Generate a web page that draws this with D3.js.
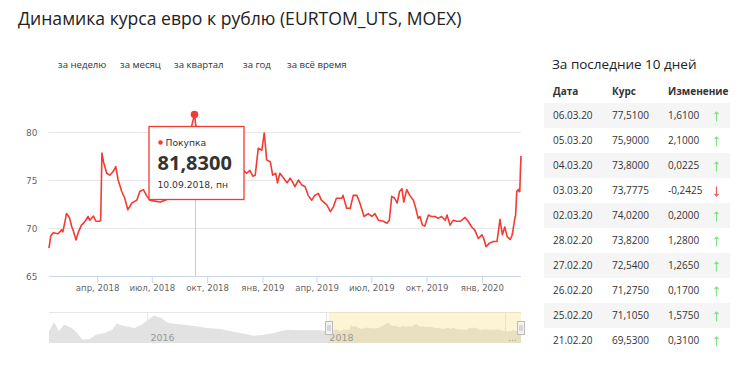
<!DOCTYPE html>
<html>
<head>
<meta charset="utf-8">
<script src="https://cdn.jsdelivr.net/npm/d3@7"></script>
<style>
  html, body { margin: 0; padding: 0; background: #fff; }
  svg { display: block; }
</style>
</head>
<body>
<svg id="chart" width="750" height="378"></svg>
<script>
// ---------- DATA ----------
const seriesDates = [
  "2018-01-11","2018-01-14","2018-01-18","2018-01-26","2018-02-01","2018-02-03","2018-02-07","2018-02-09",
  "2018-02-14","2018-02-18","2018-02-20","2018-02-25","2018-03-01","2018-03-06","2018-03-12","2018-03-17",
  "2018-03-20","2018-03-26","2018-03-30","2018-04-05","2018-04-07","2018-04-09","2018-04-12","2018-04-17",
  "2018-04-22","2018-04-28","2018-05-02","2018-05-06","2018-05-12","2018-05-17","2018-05-22","2018-05-29",
  "2018-06-06","2018-06-11","2018-06-17","2018-06-22","2018-06-28","2018-07-06","2018-07-15","2018-07-23",
  "2018-07-31","2018-08-05","2018-08-10","2018-08-15","2018-08-20","2018-08-24","2018-08-30","2018-09-04",
  "2018-09-10","2018-09-13","2018-09-18","2018-09-24","2018-10-01","2018-10-08","2018-10-15","2018-10-22",
  "2018-10-29","2018-11-05","2018-11-12","2018-11-19","2018-11-26","2018-11-30","2018-12-06","2018-12-11",
  "2018-12-16","2018-12-20","2018-12-25","2018-12-31","2019-01-04","2019-01-08","2019-01-14","2019-01-18",
  "2019-01-23","2019-01-26","2019-01-30","2019-02-05","2019-02-11","2019-02-16","2019-02-20","2019-02-24",
  "2019-03-02","2019-03-07","2019-03-13","2019-03-18","2019-03-24","2019-03-29","2019-04-04","2019-04-09",
  "2019-04-18","2019-04-24","2019-04-29","2019-05-04","2019-05-13","2019-05-15","2019-05-21","2019-05-27",
  "2019-06-01","2019-06-07","2019-06-12","2019-06-19","2019-06-26","2019-07-02","2019-07-07","2019-07-13",
  "2019-07-21","2019-07-27","2019-07-31","2019-08-04","2019-08-09","2019-08-13","2019-08-17","2019-08-21",
  "2019-08-24","2019-08-29","2019-09-03","2019-09-09","2019-09-13","2019-09-17","2019-09-20","2019-09-24",
  "2019-09-28","2019-10-04","2019-10-09","2019-10-15","2019-10-20","2019-10-26","2019-11-01","2019-11-04",
  "2019-11-09","2019-11-14","2019-11-20","2019-11-26","2019-12-04","2019-12-09","2019-12-15","2019-12-20",
  "2019-12-26","2020-01-01","2020-01-04","2020-01-08","2020-01-13","2020-01-20","2020-01-26","2020-01-28",
  "2020-01-31","2020-02-04","2020-02-08","2020-02-12","2020-02-17","2020-02-20","2020-02-21","2020-02-25",
  "2020-02-26","2020-02-27","2020-02-28","2020-03-02","2020-03-03","2020-03-04","2020-03-05","2020-03-06"
];
const seriesValues = [
  67.9,69.2,69.5,69.4,69.8,69.6,70.8,71.5,
  71.1,70.1,69.8,68.75,69.6,70.3,70.7,71.2,
  70.8,71.25,70.7,70.7,70.8,77.8,76.8,75.7,
  75.5,75.9,76.4,75.0,73.8,73.1,71.9,72.6,
  72.9,73.8,74.0,73.4,72.9,72.8,72.7,72.9,
  73.1,73.5,75.5,76.0,76.6,77.8,79.3,80.3,
  81.83,80.2,78.7,77.0,76.0,76.5,75.8,75.2,
  74.7,75.3,76.3,75.2,75.6,76.0,75.7,76.0,
  75.4,75.5,78.3,78.1,79.9,77.1,76.9,75.5,
  75.7,74.7,75.7,75.2,74.7,75.2,74.8,74.3,
  75.0,74.5,74.3,73.4,72.9,73.4,73.6,72.9,
  72.4,71.7,72.2,73.1,73.1,73.4,72.05,72.05,
  73.4,73.4,72.6,71.2,71.5,71.2,71.5,70.8,
  70.7,70.5,70.8,73.3,73.1,72.6,73.8,74.1,
  72.7,74.0,73.4,72.9,72.05,71.0,71.2,70.3,
  70.2,71.35,71.2,71.2,71.0,71.2,70.8,71.35,
  70.3,70.8,70.7,70.7,71.1,70.7,70.1,69.8,
  68.9,69.3,68.9,68.05,68.4,68.6,68.6,69.45,
  70.9,69.3,70.1,69.1,68.8,69.22,69.53,71.105,
  71.275,72.54,73.82,74.02,73.7775,73.80,75.90,77.51
];

// navigator history before the main range
const navHistDates = [
  "2014-11-25","2014-12-16","2015-01-05","2015-01-25","2015-02-25","2015-03-20","2015-04-10","2015-05-10",
  "2015-06-05","2015-07-10","2015-08-10","2015-08-28","2015-09-20","2015-11-10","2015-12-10","2016-01-05",
  "2016-01-28","2016-02-25","2016-03-25","2016-05-20","2016-07-20","2016-09-01","2016-10-25","2016-12-05",
  "2017-01-15","2017-03-10","2017-04-20","2017-05-30","2017-07-25","2017-09-25","2017-12-05"
];
const navHistValues = [
  68.3,81.8,68.3,78.3,73.3,65.8,55.8,56.8,
  63.3,65.8,70.8,79.8,76.8,73.3,78.3,85.8,
  91.8,88.3,80.8,78.3,75.8,73.3,71.8,68.3,
  65.8,61.8,63.3,65.8,70.8,69.8,69.8
];

const xTickDates  = ["2018-04-01","2018-07-01","2018-10-01","2019-01-01","2019-04-01","2019-07-01","2019-10-01","2020-01-01"];
const xTickLabels = ["апр, 2018","июл, 2018","окт, 2018","янв, 2019","апр, 2019","июл, 2019","окт, 2019","янв, 2020"];
const yTicks = [65, 70, 75, 80];

const navTickDates  = ["2016-01-01","2018-01-01","2020-01-01"];
const navTickLabels = ["2016","2018","..."];

const periodTabs = ["за неделю","за месяц","за квартал","за год","за всё время"];

const tooltipDate = "2018-09-10";
const tooltipValue = 81.83;
const tooltipSeries = "Покупка";
const tooltipDateLabel = "10.09.2018, пн";

const tableTitle = "За последние 10 дней";
const tableHeaders = ["Дата","Курс","Изменение"];
const tableDates   = ["06.03.20","05.03.20","04.03.20","03.03.20","02.03.20","28.02.20","27.02.20","26.02.20","25.02.20","21.02.20"];
const tableRates   = [77.51, 75.90, 73.80, 73.7775, 74.02, 73.82, 72.54, 71.275, 71.105, 69.53];
const tableChanges = [1.61, 2.10, 0.0225, -0.2425, 0.20, 1.28, 1.265, 0.17, 1.575, 0.31];

const titleText = "Динамика курса евро к рублю (EURTOM_UTS, MOEX)";

// ---------- DRAW ----------
const parse = d3.timeParse("%Y-%m-%d");
const data = seriesDates.map((d, i) => ({ date: parse(d), value: seriesValues[i] }));
const navData = navHistDates.map((d, i) => ({ date: parse(d), value: navHistValues[i] })).concat(data);

const RED = "#f23b33";
const chartFont = "'DejaVu Sans', sans-serif";
const uiFont = "'Open Sans', sans-serif";
const fmt4 = v => d3.format(".4f")(v).replace(".", ",").replace("−", "-");

const svg = d3.select("#chart");

// title
svg.append("text").attr("x", 18).attr("y", 25)
  .attr("font-family", uiFont).attr("font-size", 17.6).attr("fill", "#222")
  .text(titleText);

// tabs
const tabX = [58, 120, 174, 243, 287];
svg.selectAll(".tab").data(periodTabs).join("text")
  .attr("x", (d, i) => tabX[i]).attr("y", 68)
  .attr("font-family", uiFont).attr("font-size", 9.6).attr("fill", "#333")
  .text(d => d);

// scales
const x = d3.scaleTime().domain([data[0].date, data[data.length - 1].date]).range([49, 521]);
const y = d3.scaleLinear().domain([65, 80]).range([276, 132]);

// grid
svg.append("g").selectAll("line").data(yTicks.filter(t => t !== 65)).join("line")
  .attr("x1", 49).attr("x2", 521).attr("y1", d => Math.round(y(d)) + 0.5).attr("y2", d => Math.round(y(d)) + 0.5)
  .attr("stroke", "#e6e6e6").attr("stroke-width", 1);

// y labels
svg.append("g").selectAll("text").data(yTicks).join("text")
  .attr("x", 26).attr("y", d => y(d) + 3.5)
  .attr("font-family", chartFont).attr("font-size", 9).attr("fill", "#666")
  .text(d => d);

// x axis
const xAxis = d3.axisBottom(x)
  .tickValues(xTickDates.map(parse))
  .tickSize(7)
  .tickPadding(2)
  .tickFormat((d, i) => xTickLabels[i]);
const gx = svg.append("g").attr("transform", `translate(0,${y(65)})`).call(xAxis);
gx.select(".domain").attr("stroke", "#ccd6eb").attr("d", `M49,0.5H521`);
gx.selectAll(".tick line").attr("stroke", "#ccd6eb");
gx.selectAll(".tick text").attr("font-family", chartFont).attr("font-size", 8.6).attr("fill", "#666");

// crosshair
const tDate = parse(tooltipDate);
svg.append("line")
  .attr("x1", Math.round(x(tDate)) + 0.5).attr("x2", Math.round(x(tDate)) + 0.5)
  .attr("y1", y(tooltipValue)).attr("y2", y(65))
  .attr("stroke", "#cccccc").attr("stroke-width", 1);

// line
const line = d3.line().x(d => x(d.date)).y(d => y(d.value));
svg.append("path").datum(data)
  .attr("d", line).attr("fill", "none")
  .attr("stroke", RED).attr("stroke-width", 1.6).attr("stroke-linejoin", "round");

// point marker
svg.append("circle").attr("cx", x(tDate)).attr("cy", y(tooltipValue)).attr("r", 3.8).attr("fill", RED);

// tooltip
const tt = svg.append("g").attr("transform", `translate(${x(tDate) - 46},126)`);
tt.append("rect").attr("x", 0.5).attr("y", 0.5).attr("width", 95).attr("height", 73)
  .attr("fill", "#fff").attr("stroke", RED).attr("stroke-width", 1.3);
tt.append("circle").attr("cx", 12).attr("cy", 16.5).attr("r", 2.2).attr("fill", RED);
tt.append("text").attr("x", 17).attr("y", 20)
  .attr("font-family", chartFont).attr("font-size", 9.2).attr("fill", "#333").text(tooltipSeries);
tt.append("text").attr("x", 9).attr("y", 44)
  .attr("font-family", uiFont).attr("font-size", 20).attr("font-weight", "bold").attr("fill", "#333")
  .text(fmt4(tooltipValue));
tt.append("text").attr("x", 9).attr("y", 61.5)
  .attr("font-family", chartFont).attr("font-size", 9.2).attr("fill", "#333").text(tooltipDateLabel);

// ---------- navigator ----------
const nx = d3.scaleTime().domain([parse("2014-11-25"), data[data.length - 1].date]).range([49, 521]);
const ny = d3.scaleLinear().domain([51, 97]).range([343, 312]);
const nav = svg.append("g");
nav.selectAll(".ng").data(navTickDates.map(parse)).join("line")
  .attr("x1", d => Math.round(nx(d)) + 0.5).attr("x2", d => Math.round(nx(d)) + 0.5)
  .attr("y1", 312).attr("y2", 343).attr("stroke", "#e6e6e6");
const area = d3.area().x(d => nx(d.date)).y0(343).y1(d => ny(d.value));
nav.append("path").datum(navData).attr("d", area).attr("fill", "#e2e2e2");
nav.append("line").attr("x1", 49).attr("x2", 521).attr("y1", 312.5).attr("y2", 312.5).attr("stroke", "#e6e6e6");
const s0 = nx(data[0].date), s1 = nx(data[data.length - 1].date);
nav.append("rect").attr("x", s0).attr("y", 312).attr("width", s1 - s0).attr("height", 31)
  .attr("fill", "rgba(250,220,120,0.3)");
nav.selectAll(".nl").data(navTickDates.map(parse)).join("text")
  .attr("x", d => nx(d) + 3).attr("y", 341)
  .attr("font-family", chartFont).attr("font-size", 9.5).attr("fill", "#999")
  .text((d, i) => navTickLabels[i]);
[s0, s1].forEach(sx => {
  const h = nav.append("g").attr("transform", `translate(${Math.round(sx)},0)`);
  h.append("rect").attr("x", -3.5).attr("y", 321.5).attr("width", 7).attr("height", 13)
    .attr("fill", "#f2f2f2").attr("stroke", "#bbb").attr("stroke-width", 1);
  h.append("path").attr("d", "M-1,325V331M1,325V331").attr("stroke", "#bbb").attr("stroke-width", 1);
});

// ---------- table ----------
const tbl = svg.append("g");
tbl.append("text").attr("x", 552).attr("y", 69)
  .attr("font-family", uiFont).attr("font-size", 13.5).attr("fill", "#222").text(tableTitle);
const colX = [553, 612, 668];
tbl.selectAll(".hd").data(tableHeaders).join("text")
  .attr("x", (d, i) => colX[i]).attr("y", 94.5)
  .attr("font-family", uiFont).attr("font-size", 10).attr("font-weight", "bold").attr("fill", "#333")
  .text(d => d);
const rows = tbl.selectAll(".row").data(tableDates).join("g")
  .attr("transform", (d, i) => `translate(0,${103 + i * 25})`);
rows.filter((d, i) => i % 2 === 0).append("rect")
  .attr("x", 544).attr("y", 0).attr("width", 186).attr("height", 25).attr("fill", "#f5f5f5");
rows.append("text").attr("x", colX[0]).attr("y", 16)
  .attr("font-family", uiFont).attr("font-size", 10).attr("fill", "#333").text(d => d);
rows.append("text").attr("x", colX[1]).attr("y", 16)
  .attr("font-family", uiFont).attr("font-size", 10).attr("fill", "#333").text((d, i) => fmt4(tableRates[i]));
rows.append("text").attr("x", colX[2]).attr("y", 16)
  .attr("font-family", uiFont).attr("font-size", 10).attr("fill", "#333").text((d, i) => fmt4(tableChanges[i]));
// arrows
rows.append("path")
  .attr("d", (d, i) => tableChanges[i] >= 0
    ? "M716.5,9V18.5M714.5,11L716.5,9L718.5,11"
    : "M716.5,8.5V18M714.5,16L716.5,18L718.5,16")
  .attr("fill", "none")
  .attr("stroke", (d, i) => tableChanges[i] >= 0 ? "#86e086" : "#f05a5a")
  .attr("stroke-width", 1.2);
</script>
</body>
</html>
